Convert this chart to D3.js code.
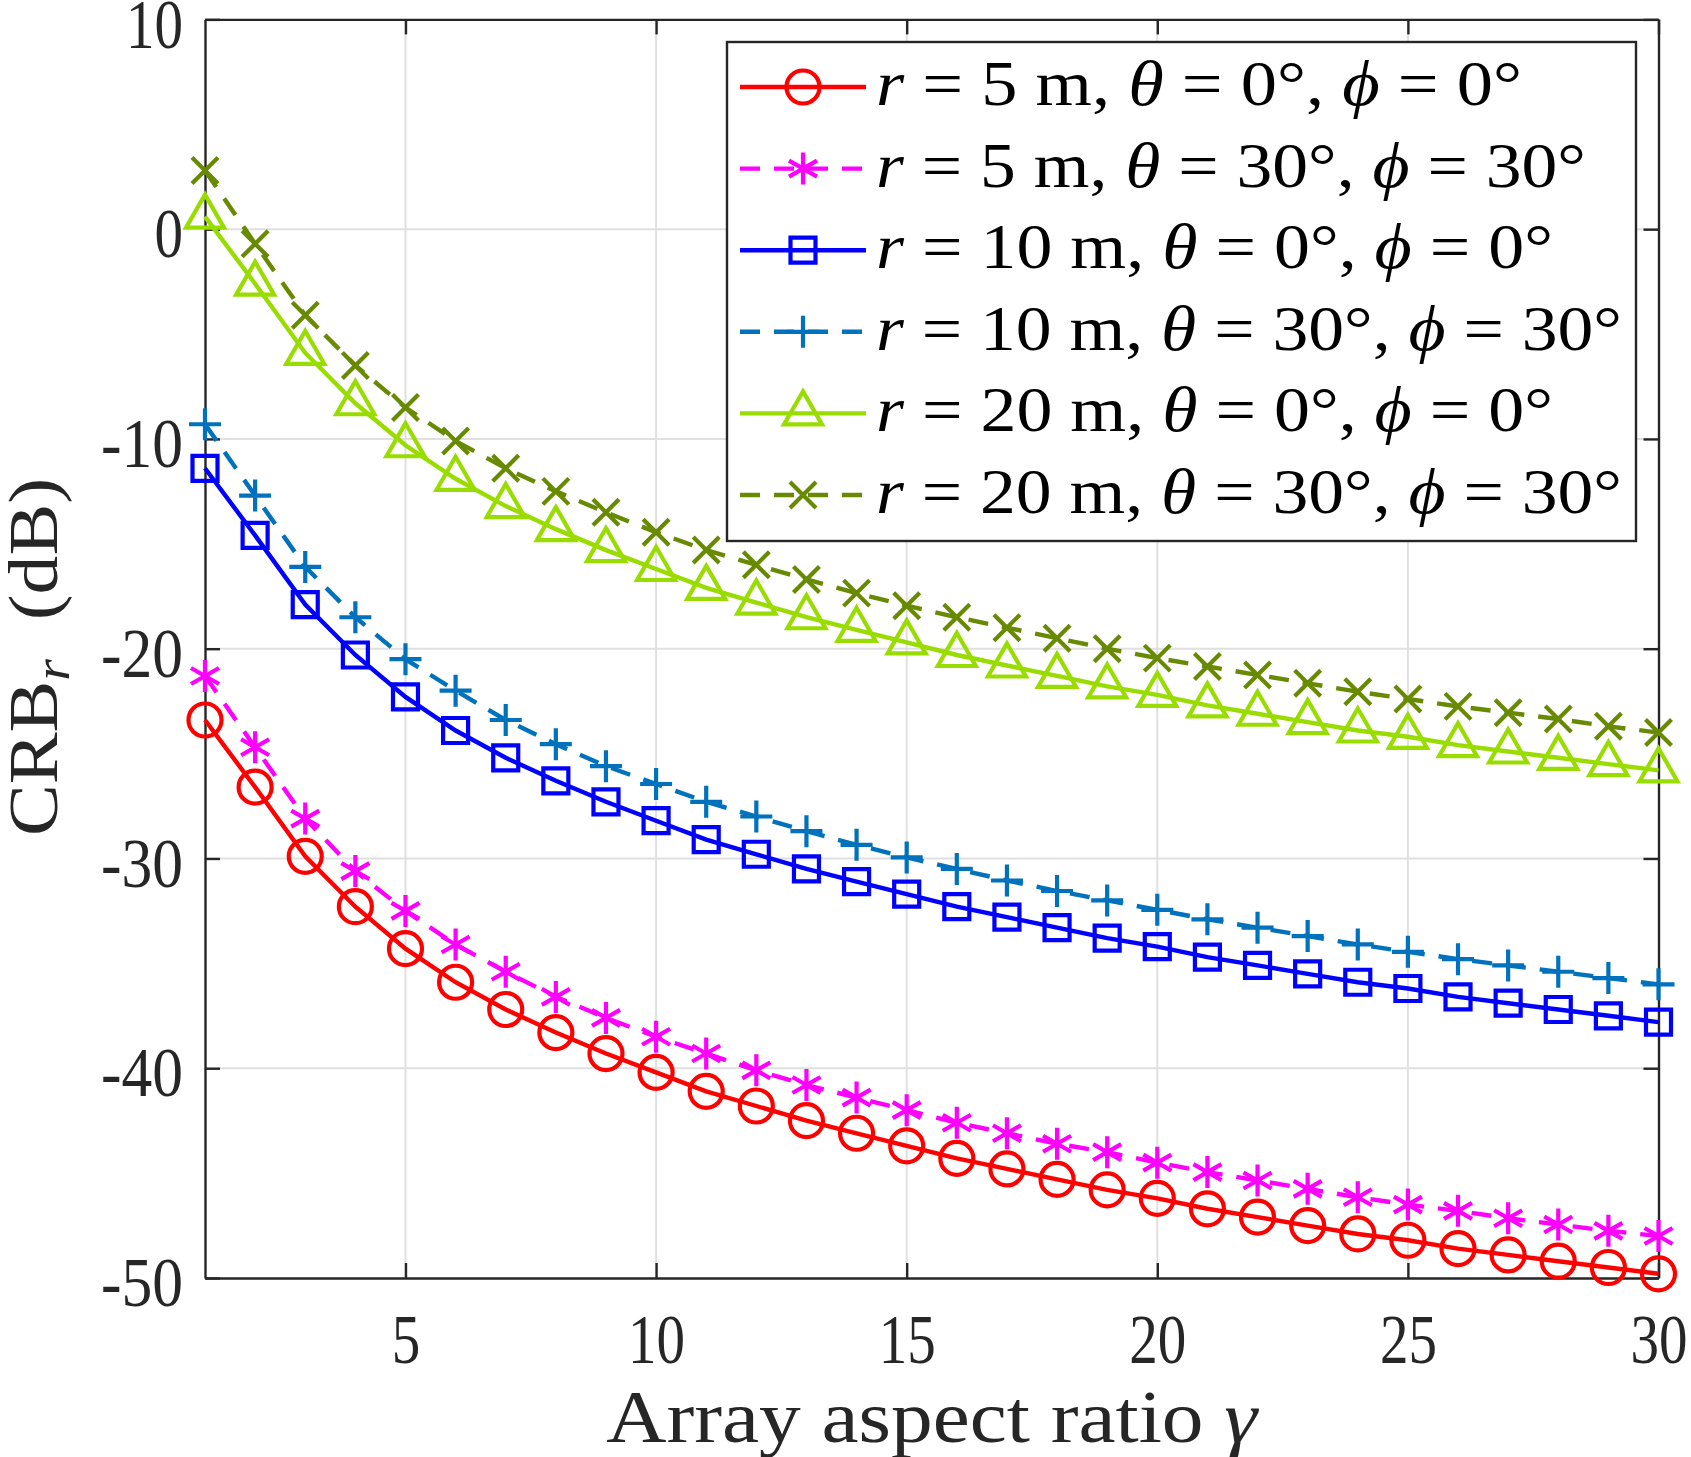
<!DOCTYPE html>
<html>
<head>
<meta charset="utf-8">
<script src="https://cdn.jsdelivr.net/npm/d3@7"></script>
<style>
  body { margin: 0; background: #fff; }
  svg { display: block; font-family: "Liberation Serif", "DejaVu Serif", serif; }
  text { white-space: pre; }
</style>
</head>
<body>
<div id="container"></div>
<script>

/* CONSTANTS AND GLOBALS */
const width = 1691,
  height = 1457,
  margin = {top: 19.4, right: 32.5, bottom: 179, left: 205};

/* DATA */
const gamma = [1, 2, 3, 4, 5, 6, 7, 8, 9, 10, 11, 12, 13, 14, 15,
  16, 17, 18, 19, 20, 21, 22, 23, 24, 25, 26, 27, 28, 29, 30];

const r5_0 = [-23.4, -26.6, -29.9, -32.3, -34.3, -35.9, -37.2, -38.3, -39.3, -40.2,
  -41.1, -41.8, -42.5, -43.1, -43.7, -44.3, -44.8, -45.3, -45.8, -46.2,
  -46.7, -47.1, -47.5, -47.9, -48.2, -48.6, -48.9, -49.2, -49.5, -49.8];

const r5_30 = [-21.3, -24.7, -28.1, -30.6, -32.5, -34.1, -35.4, -36.6, -37.6, -38.5,
  -39.3, -40.1, -40.8, -41.4, -42.0, -42.6, -43.1, -43.6, -44.0, -44.5,
  -44.95, -45.35, -45.75, -46.15, -46.5, -46.8, -47.15, -47.45, -47.75, -48.0];

const r10_0 = [-11.4, -14.6, -17.9, -20.3, -22.3, -23.9, -25.2, -26.3, -27.3, -28.2,
  -29.1, -29.8, -30.5, -31.1, -31.7, -32.3, -32.8, -33.3, -33.8, -34.2,
  -34.7, -35.1, -35.5, -35.9, -36.2, -36.6, -36.9, -37.2, -37.5, -37.8];

const r10_30 = [-9.3, -12.7, -16.1, -18.5, -20.5, -22.0, -23.4, -24.55, -25.6, -26.45,
  -27.3, -28.0, -28.7, -29.35, -29.95, -30.5, -31.05, -31.55, -32.0, -32.45,
  -32.9, -33.3, -33.7, -34.1, -34.45, -34.8, -35.1, -35.4, -35.7, -36.0];

const r20_0 = [0.6, -2.6, -5.9, -8.3, -10.3, -11.9, -13.2, -14.3, -15.3, -16.2,
  -17.1, -17.8, -18.5, -19.1, -19.7, -20.3, -20.8, -21.3, -21.8, -22.2,
  -22.7, -23.1, -23.5, -23.9, -24.2, -24.6, -24.9, -25.2, -25.5, -25.8];

const r20_30 = [2.8, -0.7, -4.1, -6.5, -8.5, -10.1, -11.4, -12.5, -13.5, -14.45,
  -15.3, -16.0, -16.7, -17.35, -17.95, -18.5, -19.0, -19.5, -20.0, -20.45,
  -20.85, -21.25, -21.65, -22.05, -22.4, -22.75, -23.05, -23.35, -23.7, -24.0];

const legendR = ["5", "5", "10", "10", "20", "20"];
const legendAngle = ["0", "30", "0", "30", "0", "30"];

const xTicks = [5, 10, 15, 20, 25, 30];
const yTicks = [-50, -40, -30, -20, -10, 0, 10];

/* STYLES */
const series = [
  {values: r5_0,   color: "#ff0000", dash: null,    marker: "circle"},
  {values: r5_30,  color: "#ff00ff", dash: "20,14", marker: "asterisk"},
  {values: r10_0,  color: "#0000ff", dash: null,    marker: "square"},
  {values: r10_30, color: "#0072bd", dash: "20,14", marker: "plus"},
  {values: r20_0,  color: "#99dd00", dash: null,    marker: "triangle"},
  {values: r20_30, color: "#678a00", dash: "20,14", marker: "times"}
];
const legendWidths = [646, 710, 677, 746, 677, 746];
const lineW = 4.4, markW = 4.2;

// marker outlines, centred on the data point
function markerPath(type) {
  const p = d3.path();
  if (type === "circle") {
    p.moveTo(16.5, 0); p.arc(0, 0, 16.5, 0, 2 * Math.PI);
  } else if (type === "square") {
    p.rect(-12.5, -12.5, 25, 25);
  } else if (type === "triangle") {
    p.moveTo(0, -22); p.lineTo(19, 11); p.lineTo(-19, 11); p.closePath();
  } else if (type === "plus") {
    p.moveTo(-16, 0); p.lineTo(16, 0); p.moveTo(0, -16); p.lineTo(0, 16);
  } else if (type === "times") {
    p.moveTo(-13, -13); p.lineTo(13, 13); p.moveTo(-13, 13); p.lineTo(13, -13);
  } else if (type === "asterisk") {
    p.moveTo(0, -16); p.lineTo(0, 16);
    p.moveTo(-14, -8); p.lineTo(14, 8); p.moveTo(-14, 8); p.lineTo(14, -8);
  }
  return p.toString();
}

/* SCALES */
const xScale = d3.scaleLinear()
  .domain([1, 30])
  .range([margin.left, width - margin.right]);

const yScale = d3.scaleLinear()
  .domain([-50, 10])
  .range([height - margin.bottom, margin.top]);

/* HTML ELEMENTS */
const svg = d3.select("#container")
  .append("svg")
  .attr("width", width)
  .attr("height", height);

// grid
svg.append("g")
  .selectAll("line")
  .data(xTicks.filter(d => d < 30))
  .join("line")
  .attr("x1", d => xScale(d)).attr("x2", d => xScale(d))
  .attr("y1", margin.top).attr("y2", height - margin.bottom)
  .attr("stroke", "#e0e0e0").attr("stroke-width", 2);

svg.append("g")
  .selectAll("line")
  .data(yTicks.filter(d => d > -50 && d < 10))
  .join("line")
  .attr("x1", margin.left).attr("x2", width - margin.right)
  .attr("y1", d => yScale(d)).attr("y2", d => yScale(d))
  .attr("stroke", "#e0e0e0").attr("stroke-width", 2);

// axes (ticks point inward, box on)
const axisColor = "#262626";
// narrow, tall digits like the original
const labelLen = s => s.replace("-", "").length * 28.5 + (s.startsWith("-") ? 25 : 0);

const xAxis = d3.axisBottom(xScale).tickValues(xTicks).tickSizeInner(-15).tickSizeOuter(0)
  .tickFormat(d => String(d));
const yAxis = d3.axisLeft(yScale).tickValues(yTicks).tickSizeInner(-15).tickSizeOuter(0)
  .tickPadding(22).tickFormat(d => String(d));

const gx = svg.append("g")
  .attr("transform", `translate(0, ${height - margin.bottom})`)
  .call(xAxis);
gx.selectAll("text").attr("y", 85).attr("dy", 0);

const gy = svg.append("g")
  .attr("transform", `translate(${margin.left}, 0)`)
  .call(yAxis);
gy.selectAll("text").attr("dy", "0.4em");

svg.append("g")
  .attr("transform", `translate(0, ${margin.top})`)
  .call(d3.axisTop(xScale).tickValues(xTicks).tickSizeInner(-15).tickSizeOuter(0).tickFormat(""));

svg.append("g")
  .attr("transform", `translate(${width - margin.right}, 0)`)
  .call(d3.axisRight(yScale).tickValues(yTicks).tickSizeInner(-15).tickSizeOuter(0).tickFormat(""));

svg.selectAll(".domain").attr("stroke", axisColor).attr("stroke-width", 2.4);
svg.selectAll(".tick line").attr("stroke", axisColor).attr("stroke-width", 2.4);
svg.selectAll(".tick text")
  .attr("fill", axisColor)
  .attr("font-size", 69)
  .attr("font-family", "'Liberation Serif', 'DejaVu Serif', serif")
  .attr("textLength", function() { return labelLen(this.textContent); })
  .attr("lengthAdjust", "spacingAndGlyphs");

// axis labels
svg.append("text")
  .attr("x", (margin.left + width - margin.right) / 2)
  .attr("y", 1442)
  .attr("text-anchor", "middle")
  .attr("font-size", 74)
  .attr("fill", axisColor)
  .attr("textLength", 651)
  .attr("lengthAdjust", "spacingAndGlyphs")
  .call(t => {
    t.append("tspan").text("Array aspect ratio ");
    t.append("tspan").attr("font-style", "italic").text("γ");
  });

svg.append("text")
  .attr("transform", "translate(57, 657) rotate(-90)")
  .attr("text-anchor", "middle")
  .attr("font-size", 70)
  .attr("fill", axisColor)
  .attr("textLength", 358)
  .attr("lengthAdjust", "spacingAndGlyphs")
  .call(t => {
    t.append("tspan").text("CRB");
    t.append("tspan").attr("font-style", "italic").attr("font-size", 50).attr("dy", 12).text("r");
    t.append("tspan").attr("dy", -12).text("  (dB)");
  });

// data lines and markers
const line = d3.line()
  .x((d, i) => xScale(gamma[i]))
  .y(d => yScale(d));

series.forEach(s => {
  const g = svg.append("g");
  g.append("path")
    .attr("d", line(s.values))
    .attr("fill", "none")
    .attr("stroke", s.color)
    .attr("stroke-width", lineW)
    .attr("stroke-dasharray", s.dash);
  g.selectAll("path.marker")
    .data(s.values)
    .join("path")
    .attr("class", "marker")
    .attr("transform", (d, i) => `translate(${xScale(gamma[i])}, ${yScale(d)})`)
    .attr("d", markerPath(s.marker))
    .attr("fill", "none")
    .attr("stroke", s.color)
    .attr("stroke-width", markW);
});

/* LEGEND */
const legend = svg.append("g");
legend.append("rect")
  .attr("x", 727).attr("y", 42)
  .attr("width", 909).attr("height", 499)
  .attr("fill", "#fff")
  .attr("stroke", axisColor)
  .attr("stroke-width", 2.4);

series.forEach((s, i) => {
  const ly = 87 + i * 81.6;
  legend.append("line")
    .attr("x1", 740).attr("x2", 866)
    .attr("y1", ly).attr("y2", ly)
    .attr("stroke", s.color)
    .attr("stroke-width", lineW)
    .attr("stroke-dasharray", s.dash);
  legend.append("path")
    .attr("transform", `translate(803, ${ly})`)
    .attr("d", markerPath(s.marker))
    .attr("fill", "none")
    .attr("stroke", s.color)
    .attr("stroke-width", markW);
  const t = legend.append("text")
    .attr("x", 876)
    .attr("y", ly + 18)
    .attr("font-size", 64)
    .attr("fill", "#000")
    .attr("textLength", legendWidths[i])
    .attr("lengthAdjust", "spacingAndGlyphs");
  t.append("tspan").attr("font-style", "italic").text("r");
  t.append("tspan").text(` = ${legendR[i]} m, `);
  t.append("tspan").attr("font-style", "italic").text("θ");
  t.append("tspan").text(` = ${legendAngle[i]}°, `);
  t.append("tspan").attr("font-style", "italic").text("ϕ");
  t.append("tspan").text(` = ${legendAngle[i]}°`);
});

</script>
</body>
</html>
